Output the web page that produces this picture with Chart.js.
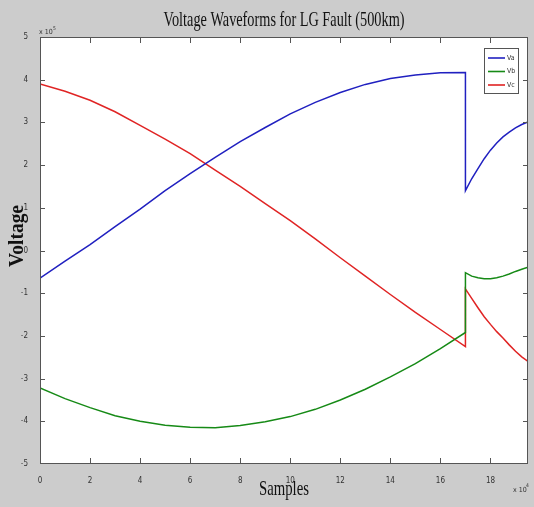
<!DOCTYPE html>
<html><head><meta charset="utf-8">
<script src="https://cdn.jsdelivr.net/npm/chart.js@4.4.0/dist/chart.umd.min.js"></script>
<style>html,body{margin:0;padding:0;background:#cccccc;overflow:hidden}</style>
</head><body>
<canvas id="c" width="534" height="507"></canvas>
<script>
// ---- data (x in units of 10^4 samples, y in units of 10^5 V) ----
const samples = [0,1,2,3,4,5,6,7,8,9,10,11,12,13,14,15,16,17,
                 17,17.25,17.5,17.75,18,18.25,18.5,18.75,19,19.25,19.5];
const va = [-0.65,-0.25,0.14,0.56,0.97,1.40,1.80,2.18,2.55,2.88,3.20,3.47,3.70,3.89,4.03,4.11,4.16,4.17,
            1.40,1.68,1.92,2.15,2.35,2.52,2.66,2.77,2.87,2.95,3.01];
const vb = [-3.22,-3.47,-3.68,-3.87,-4.00,-4.09,-4.14,-4.15,-4.10,-4.01,-3.89,-3.72,-3.50,-3.25,-2.96,-2.65,-2.30,-1.92,
            -0.52,-0.60,-0.64,-0.66,-0.66,-0.64,-0.60,-0.55,-0.49,-0.44,-0.39];
const vc = [3.90,3.73,3.52,3.25,2.93,2.61,2.27,1.88,1.50,1.10,0.70,0.27,-0.17,-0.60,-1.03,-1.45,-1.85,-2.25,
            -0.90,-1.12,-1.34,-1.55,-1.73,-1.90,-2.05,-2.21,-2.36,-2.49,-2.60];
const seriesNames = ['Va','Vb','Vc'];
const seriesColors = ['#2020c0','#168a16','#e02424'];
const xTicks = [0,2,4,6,8,10,12,14,16,18];
const yTicks = [-5,-4,-3,-2,-1,0,1,2,3,4,5];
const xRange = [0, 19.5];
const yRange = [-5, 5];
const titleText = 'Voltage Waveforms for LG Fault (500km)';
const xTitle = 'Samples';
const yTitle = 'Voltage';
const xExp = '4', yExp = '5';

const mk = (arr) => samples.map((s,i)=>({x:s,y:arr[i]}));
const seriesValues = [va, vb, vc];

function drawScaledText(ctx, text, font, cx, cy, targetW, rot) {
  ctx.save();
  ctx.font = font;
  const w = ctx.measureText(text).width;
  ctx.translate(cx, cy);
  if (rot) ctx.rotate(rot);
  ctx.scale(targetW / w, 1);
  ctx.textAlign = 'center';
  ctx.textBaseline = 'middle';
  ctx.fillStyle = '#111';
  ctx.fillText(text, 0, 0);
  ctx.restore();
}

const deco = {
  id: 'deco',
  beforeDraw(chart) {
    const {ctx, chartArea: a} = chart;
    ctx.save();
    ctx.fillStyle = '#cccccc';
    ctx.fillRect(0, 0, chart.width, chart.height);
    ctx.fillStyle = '#ffffff';
    ctx.fillRect(a.left, a.top, a.right - a.left, a.bottom - a.top);
    ctx.restore();
  },
  afterDraw(chart) {
    const {ctx, chartArea: a, scales} = chart;
    const xs = scales.x, ys = scales.y;
    ctx.save();
    ctx.strokeStyle = '#555';
    ctx.lineWidth = 1;
    ctx.strokeRect(a.left + 0.5, a.top + 0.5, a.right - a.left - 1, a.bottom - a.top - 1);
    ctx.beginPath();
    xTicks.forEach(v => {
      const px = Math.round(xs.getPixelForValue(v)) + 0.5;
      if (v !== xRange[0]) {
        ctx.moveTo(px, a.bottom); ctx.lineTo(px, a.bottom - 6);
        ctx.moveTo(px, a.top); ctx.lineTo(px, a.top + 6);
      }
    });
    yTicks.forEach(v => {
      const py = Math.round(ys.getPixelForValue(v)) + 0.5;
      if (v !== yRange[0] && v !== yRange[1]) {
        ctx.moveTo(a.left, py); ctx.lineTo(a.left + 5, py);
        ctx.moveTo(a.right, py); ctx.lineTo(a.right - 5, py);
      }
    });
    ctx.stroke();

    // exponent labels
    ctx.fillStyle = '#333';
    ctx.textBaseline = 'alphabetic';
    ctx.textAlign = 'left';
    ctx.font = '7px "DejaVu Sans Condensed"';
    ctx.fillText('x 10', a.left - 1, a.top - 3);
    ctx.font = '5px "DejaVu Sans Condensed"';
    ctx.fillText(yExp, a.left + 13, a.top - 7);
    ctx.font = '7px "DejaVu Sans Condensed"';
    ctx.fillText('x 10', a.right - 15, 492);
    ctx.font = '5px "DejaVu Sans Condensed"';
    ctx.fillText(xExp, a.right - 2, 487);

    // titles
    drawScaledText(ctx, titleText, '21px "Liberation Serif"', 284, 20, 241, 0);
    drawScaledText(ctx, xTitle, '21px "Liberation Serif"', 284, 489, 50, 0);
    drawScaledText(ctx, yTitle, 'bold 21px "Liberation Serif"', 18, 236, 62, -Math.PI/2);

    // legend box
    const lx = 484, ly = 48, lw = 34, lh = 45;
    ctx.fillStyle = '#fff';
    ctx.fillRect(lx, ly, lw, lh);
    ctx.strokeStyle = '#555';
    ctx.strokeRect(lx + 0.5, ly + 0.5, lw, lh);
    chart.data.datasets.forEach((ds, i) => {
      const yy = ly + 10 + i * 13.5;
      ctx.strokeStyle = ds.borderColor;
      ctx.lineWidth = 1.6;
      ctx.beginPath(); ctx.moveTo(lx + 4, yy); ctx.lineTo(lx + 21, yy); ctx.stroke();
      ctx.fillStyle = '#333';
      ctx.font = '7px "DejaVu Sans Condensed"';
      ctx.textBaseline = 'middle';
      ctx.fillText(ds.label, lx + 23, yy);
    });
    ctx.restore();
  }
};

new Chart(document.getElementById('c'), {
  type: 'line',
  data: {
    datasets: seriesNames.map((n, i) => ({
      label: n,
      data: mk(seriesValues[i]),
      borderColor: seriesColors[i],
      borderWidth: 1.5,
      pointRadius: 0,
      tension: 0,
      fill: false
    }))
  },
  options: {
    responsive: false,
    animation: false,
    devicePixelRatio: 1,
    layout: { padding: { left: 0, top: 37, right: 6, bottom: 0 } },
    plugins: { legend: { display: false }, title: { display: false }, tooltip: { enabled: false } },
    scales: {
      x: {
        type: 'linear', min: xRange[0], max: xRange[1],
        grid: { display: false }, border: { display: false },
        afterBuildTicks: s => { s.ticks = xTicks.map(v => ({value: v})); },
        afterFit: s => { s.height = 43; },
        ticks: { padding: 4, color: '#333', font: { family: 'DejaVu Sans Condensed', size: 8 }, maxRotation: 0 }
      },
      y: {
        type: 'linear', min: yRange[0], max: yRange[1],
        grid: { display: false }, border: { display: false },
        afterBuildTicks: s => { s.ticks = yTicks.map(v => ({value: v})); },
        afterFit: s => { s.width = 40; },
        ticks: { padding: 4, color: '#333', font: { family: 'DejaVu Sans Condensed', size: 8 } }
      }
    }
  },
  plugins: [deco]
});
</script>
</body></html>
